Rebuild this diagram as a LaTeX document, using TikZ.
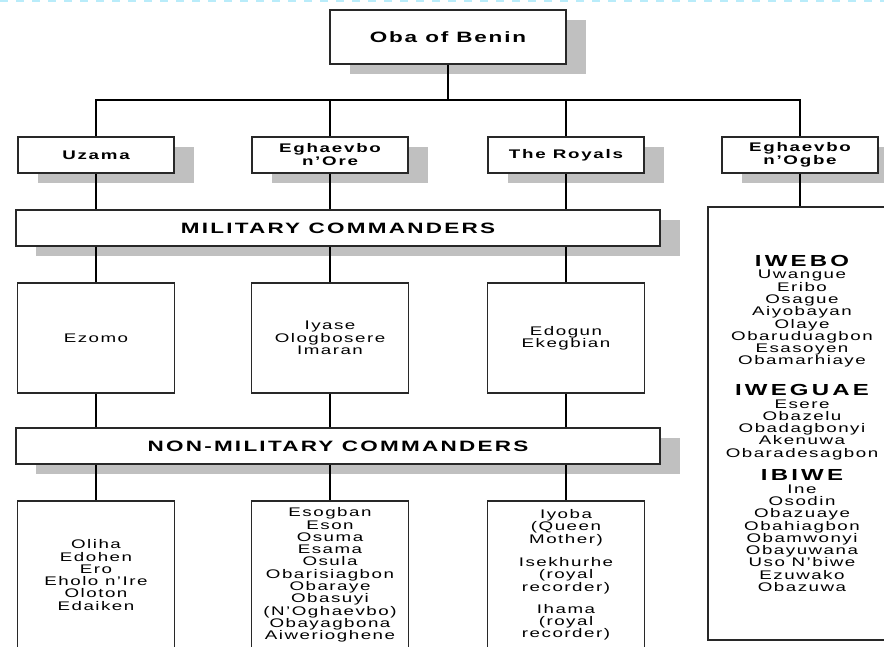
\documentclass[tikz,border=0pt]{standalone}
\usepackage{fontspec}
\setmainfont{Liberation Sans}[FakeStretch=1.5,LetterSpace=12]
\usetikzlibrary{shadows}
\definecolor{shadowgray}{RGB}{192,192,192}
\definecolor{dotcyan}{RGB}{185,236,250}
\definecolor{edge}{RGB}{40,40,40}
\newcommand\nmfont{\fontsize{12.5}{12.3}\selectfont}
\newcommand\hdfont{\fontsize{16}{16}\selectfont\bfseries\addfontfeatures{LetterSpace=20}}
\tikzset{
  box/.style={draw=edge, line width=1.3pt, fill=white, inner sep=0pt, align=center},
  shad/.style={drop shadow={shadow xshift=20pt, shadow yshift=-10pt, fill=shadowgray, opacity=1}},
  topbox/.style={box, shad, minimum width=236pt, minimum height=54pt, font=\fontsize{15}{16}\selectfont\bfseries\addfontfeatures{LetterSpace=12}},
  rankbox/.style={box, shad, minimum width=156pt, minimum height=36pt, font=\fontsize{12.5}{13}\selectfont\bfseries\addfontfeatures{LetterSpace=14}},
  barbox/.style={box, shad, minimum width=644pt, minimum height=36pt, font=\fontsize{15}{16}\selectfont\bfseries\addfontfeatures{LetterSpace=15}},
  midbox/.style={box, minimum width=157pt, minimum height=110pt, font=\nmfont},
  lowbox/.style={box, minimum width=157pt, minimum height=148pt, font=\nmfont},
  bigbox/.style={box, minimum width=188pt, minimum height=433pt, font=\nmfont},
  link/.style={draw=black, line width=1.2pt}
}
\begin{document}
\begin{tikzpicture}[x=1pt,y=-1pt]
\useasboundingbox (0,0) rectangle (884,646);
\clip (0,0) rectangle (884,646);
\fill[white] (0,0) rectangle (884,646);
\draw[dotcyan, line width=2.5pt, dash pattern=on 8pt off 8pt] (0,1) -- (884,1);

% top
\node[topbox] (oba) at (448,37) {Oba of Benin};

% ranks
\node[rankbox] (uzama) at (96,155) {Uzama};
\node[rankbox] (ore) at (330,155) {Eghaevbo\\n'Ore};
\node[rankbox] (royals) at (566,155) {The Royals};
\node[rankbox] (ogbe) at (800,155) {Eghaevbo\\n'Ogbe};

% bars
\node[barbox] (mil) at (338,228) {MILITARY COMMANDERS};
\node[barbox] (nonmil) at (338,446) {NON-MILITARY COMMANDERS};

% military
\node[midbox] (ezomo) at (96,338) {Ezomo};
\node[midbox] (iyase) at (330,338) {Iyase\\Ologbosere\\Imaran};
\node[midbox] (edogun) at (566,338) {Edogun\\Ekegbian};

% non-military
\node[lowbox] (oliha) at (96,575) {Oliha\\Edohen\\Ero\\Eholo n'Ire\\Oloton\\Edaiken};
\node[lowbox] (esogban) at (330,575) {Esogban\\Eson\\Osuma\\Esama\\Osula\\Obarisiagbon\\Obaraye\\Obasuyi\\(N'Oghaevbo)\\Obayagbona\\Aiwerioghene};
\node[lowbox] (iyoba) at (566,575) {Iyoba\\(Queen\\Mother)\\[11pt]Isekhurhe\\(royal\\recorder)\\[10pt]Ihama\\(royal\\recorder)};

% Eghaevbo n'Ogbe list
\node[bigbox] (list) at (802,423.5) {{\hdfont IWEBO}\\Uwangue\\Eribo\\Osague\\Aiyobayan\\Olaye\\Obaruduagbon\\Esasoyen\\Obamarhiaye\\[16pt]{\hdfont IWEGUAE}\\Esere\\Obazelu\\Obadagbonyi\\Akenuwa\\Obaradesagbon\\[9pt]{\hdfont IBIWE}\\Ine\\Osodin\\Obazuaye\\Obahiagbon\\Obamwonyi\\Obayuwana\\Uso N'biwe\\Ezuwako\\Obazuwa};

% connectors
\coordinate (hub) at (448,100);
\draw[link] (oba.south) -- (hub);
\draw[link] (uzama.north) -- (uzama.north |- hub) -- (ogbe.north |- hub) -- (ogbe.north);
\draw[link] (ore.north) -- (ore.north |- hub);
\draw[link] (royals.north) -- (royals.north |- hub);

\draw[link] (uzama.south) -- (uzama.south |- mil.north);
\draw[link] (ore.south) -- (ore.south |- mil.north);
\draw[link] (royals.south) -- (royals.south |- mil.north);
\draw[link] (ogbe.south) -- (ogbe.south |- list.north);

\draw[link] (ezomo.north |- mil.south) -- (ezomo.north);
\draw[link] (iyase.north |- mil.south) -- (iyase.north);
\draw[link] (edogun.north |- mil.south) -- (edogun.north);

\draw[link] (ezomo.south) -- (ezomo.south |- nonmil.north);
\draw[link] (iyase.south) -- (iyase.south |- nonmil.north);
\draw[link] (edogun.south) -- (edogun.south |- nonmil.north);

\draw[link] (oliha.north |- nonmil.south) -- (oliha.north);
\draw[link] (esogban.north |- nonmil.south) -- (esogban.north);
\draw[link] (iyoba.north |- nonmil.south) -- (iyoba.north);
\end{tikzpicture}
\end{document}
